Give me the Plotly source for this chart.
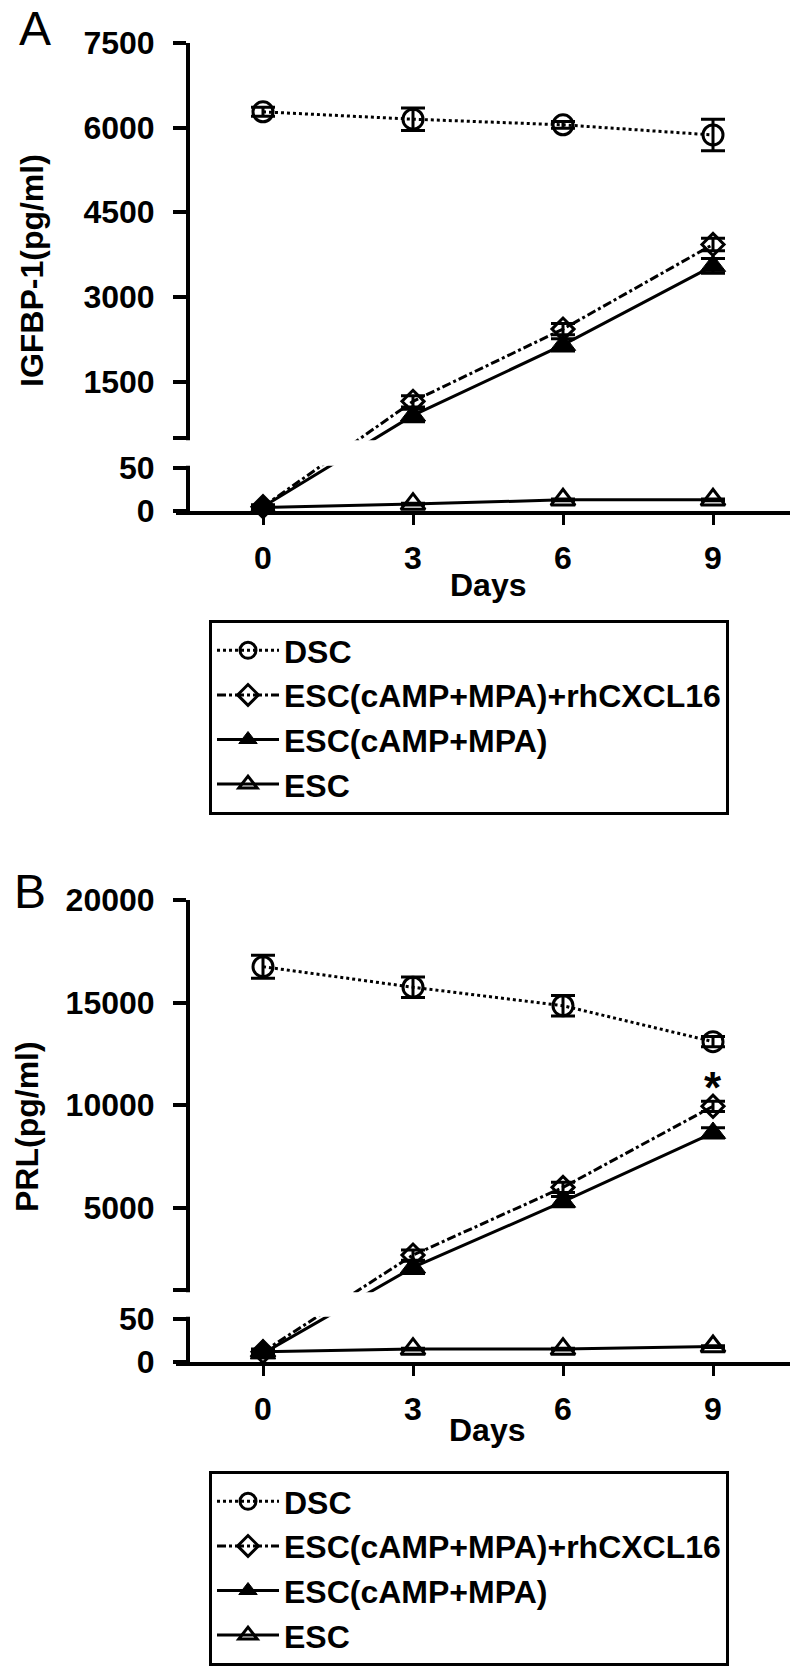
import plotly.graph_objects as go

# ---------------- data ----------------
days = [0, 3, 6, 9]
day_labels = ["0", "3", "6", "9"]
series_names = ["DSC", "ESC(cAMP+MPA)+rhCXCL16", "ESC(cAMP+MPA)", "ESC"]

# Panel A : IGFBP-1 (pg/ml)
igfbp_dsc = [6280, 6150, 6050, 5870]
igfbp_dsc_err = [80, 200, 60, 280]
igfbp_rh = [5, 1150, 2430, 3930]
igfbp_rh_err = [2, 100, 100, 110]
igfbp_camp = [5, 900, 2150, 3550]
igfbp_camp_err = [2, 110, 110, 130]
igfbp_esc = [4, 8, 13, 13]
igfbp_esc_err = [1, 1, 1, 1]
igfbp_ticks = [0, 50, 1500, 3000, 4500, 6000, 7500]

# Panel B : PRL (pg/ml)
prl_dsc = [16750, 15750, 14850, 13100]
prl_dsc_err = [560, 500, 500, 250]
prl_rh = [12, 2700, 6000, 9950]
prl_rh_err = [3, 250, 250, 250]
prl_camp = [10, 2100, 5300, 8650]
prl_camp_err = [3, 300, 250, 250]
prl_esc = [12, 15, 15, 18]
prl_esc_err = [1, 1, 1, 1]
prl_ticks = [0, 50, 5000, 10000, 15000, 20000]
prl_star_value = 11400

# ---------------- layout constants ----------------
W, H = 794, 1667
FONT = "Liberation Sans, Arial, Helvetica, sans-serif"


class Broken:
    """Two-segment (broken) y scale, expressed in display units."""

    def __init__(self, low_top, low_px, gap_px, brk, top, up_px):
        self.low_top = low_top
        self.low_px = low_px
        self.gap_px = gap_px
        self.brk = brk
        self.top = top
        self.up_px = up_px

    def __call__(self, v):
        if v <= self.low_top:
            return v * self.low_px / self.low_top
        if v < self.brk:
            return self.low_px + self.gap_px * (v - self.low_top) / (self.brk - self.low_top)
        return self.low_px + self.gap_px + (v - self.brk) * self.up_px / (self.top - self.brk)

    @property
    def total(self):
        return self.low_px + self.gap_px + self.up_px


scaleA = Broken(50, 43, 30, 500, 7500, 395)
scaleB = Broken(50, 43, 29, 1000, 20000, 390)

styles = [
    dict(dash="dot", symbol="circle-open", size=20, lw=3),
    dict(dash="dashdot", symbol="diamond-open", size=17, lw=3),
    dict(dash="solid", symbol="triangle-up", size=22, lw=1),
    dict(dash="solid", symbol="triangle-up-open", size=21, lw=3),
]

fig = go.Figure()


def add_panel(values, errors, scale, xa, ya, legend):
    for name, vals, errs, st in zip(series_names, values, errors, styles):
        yd = [scale(v) for v in vals]
        up = [scale(v + e) - scale(v) for v, e in zip(vals, errs)]
        dn = [scale(v) - scale(max(v - e, 0)) for v, e in zip(vals, errs)]
        fig.add_trace(go.Scatter(
            x=days, y=yd, name=name, mode="lines+markers",
            xaxis=xa, yaxis=ya, legend=legend, cliponaxis=False,
            line=dict(color="black", width=3, dash=st["dash"]),
            marker=dict(symbol=st["symbol"], size=st["size"], color="black",
                        line=dict(color="black", width=st["lw"])),
            error_y=dict(type="data", symmetric=False, array=up, arrayminus=dn,
                         thickness=3, width=12, color="black"),
            hoverinfo="skip",
        ))


add_panel([igfbp_dsc, igfbp_rh, igfbp_camp, igfbp_esc],
          [igfbp_dsc_err, igfbp_rh_err, igfbp_camp_err, igfbp_esc_err],
          scaleA, "x", "y", "legend")
add_panel([prl_dsc, prl_rh, prl_camp, prl_esc],
          [prl_dsc_err, prl_rh_err, prl_camp_err, prl_esc_err],
          scaleB, "x2", "y2", "legend2")


def py(p):  # pixel-from-top -> paper
    return 1 - p / H


def px(p):
    return p / W


x_left_px, x_right_px, day0_px, px_per_day = 176, 790, 263, 50
xrange = [(x_left_px - day0_px) / px_per_day, (x_right_px - day0_px) / px_per_day]
yaxis_px = 188

tickfont = dict(family=FONT, size=32, color="black", weight="bold")

xcommon = dict(domain=[px(x_left_px), px(x_right_px)], range=xrange,
               showline=True, linewidth=4, linecolor="black",
               ticks="outside", ticklen=10, tickwidth=3, tickcolor="black",
               tickvals=days, ticktext=day_labels, tickfont=tickfont,
               ticklabelstandoff=6, automargin=False,
               showgrid=False, zeroline=False, fixedrange=True)


def ycommon(scale, ticks, top_px, bottom_px):
    tv = [scale(t) for t in ticks] + [scale(scale.brk)]
    tt = [str(t) for t in ticks] + [""]
    return dict(domain=[py(bottom_px), py(top_px)], range=[0, scale.total],
                anchor="free", position=px(yaxis_px),
                showline=True, linewidth=4, linecolor="black",
                ticks="outside", ticklen=13, tickwidth=4, tickcolor="black",
                tickvals=tv, ticktext=tt, tickfont=tickfont,
                ticklabelstandoff=12, automargin=False,
                showgrid=False, zeroline=False, fixedrange=True)


A_top, A_bot = 43, 511
B_top, B_bot = 900, 1362

fig.update_layout(
    xaxis=dict(anchor="y", **xcommon),
    xaxis2=dict(anchor="y2", **xcommon),
    yaxis=ycommon(scaleA, igfbp_ticks, A_top, A_bot),
    yaxis2=ycommon(scaleB, prl_ticks, B_top, B_bot),
)

# gaps of the broken axes
for ya, sc in (("y", scaleA), ("y2", scaleB)):
    fig.add_shape(type="rect", xref="paper", yref=ya, layer="above",
                  x0=px(182), x1=1.0,
                  y0=sc.low_px + 2.3, y1=sc.low_px + sc.gap_px - 2.3,
                  fillcolor="white", line=dict(width=0))

legend_common = dict(xanchor="left", yanchor="top", bgcolor="white",
                     bordercolor="black", borderwidth=3,
                     font=dict(family=FONT, size=32, color="black", weight="bold"),
                     itemwidth=62, traceorder="normal")

annos = [
    dict(text="A", x=px(35), y=1.0, yanchor="top",
         font=dict(family=FONT, size=48, color="black")),
    dict(text="B", x=px(30), y=py(891), font=dict(family=FONT, size=48, color="black")),
    dict(text="<b>IGFBP-1(pg/ml)</b>", x=px(32), y=py(271), textangle=-90,
         font=dict(family=FONT, size=32, color="black")),
    dict(text="<b>PRL(pg/ml)</b>", x=px(27), y=py(1127), textangle=-90,
         font=dict(family=FONT, size=32, color="black")),
    dict(text="<b>Days</b>", x=px(488), y=py(585),
         font=dict(family=FONT, size=32, color="black")),
    dict(text="<b>Days</b>", x=px(487), y=py(1430),
         font=dict(family=FONT, size=32, color="black")),
]
for a in annos:
    a.setdefault("yanchor", "middle")
    a.update(xref="paper", yref="paper", showarrow=False, xanchor="center")
    fig.add_annotation(**a)

fig.add_annotation(text="<b>*</b>", x=days[-1], y=scaleB(prl_star_value),
                   xref="x2", yref="y2", showarrow=False,
                   xanchor="center", yanchor="middle", yshift=-11,
                   font=dict(family=FONT, size=44, color="black"))

fig.update_layout(
    width=W, height=H,
    margin=dict(l=0, r=0, t=0, b=0, autoexpand=False),
    paper_bgcolor="white", plot_bgcolor="white",
    showlegend=True,
    legend=dict(x=px(209), y=py(620), **legend_common),
    legend2=dict(x=px(209), y=py(1471), **legend_common),
)

fig.write_html(
    "out.html",
    config={"displayModeBar": False, "staticPlot": True},
    post_script="document.body.style.margin='0';document.body.style.overflow='hidden';",
)
